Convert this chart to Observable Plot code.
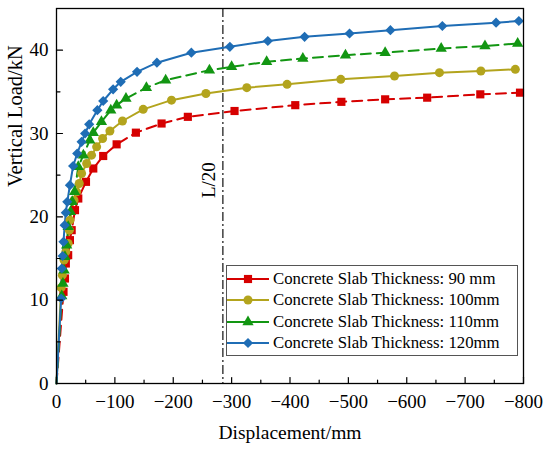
<!DOCTYPE html>
<html>
<head>
<meta charset="utf-8">
<script src="https://cdn.jsdelivr.net/npm/d3@7"></script>
<script src="https://cdn.jsdelivr.net/npm/@observablehq/plot@0.6"></script>
<style>
  html, body { margin: 0; padding: 0; background: white; }
  #wrap { position: relative; width: 550px; height: 450px; font-family: "Liberation Serif", "Times New Roman", serif; }
  #legend { position: absolute; left: 226px; top: 265px; width: 292px; height: 91px; border: 1px solid #555; background: white; box-sizing: border-box; padding-top: 2px; }
  .row { display: flex; align-items: center; height: 21.5px; }
  .row span { font-size: 16.8px; color: black; margin-left: 4px; white-space: nowrap; }
</style>
</head>
<body>
<div id="wrap"></div>
<script>
// ---- data ----
const seriesNames = [
  "Concrete Slab Thickness: 90 mm",
  "Concrete Slab Thickness: 100mm",
  "Concrete Slab Thickness: 110mm",
  "Concrete Slab Thickness: 120mm"
];
const seriesColors = ["#d60000", "#b3a41d", "#129612", "#1f6db5"];
const seriesSymbols = ["square", "circle", "triangle", "diamond2"];
const seriesDash = ["10,6", null, "10,6", null];
const seriesR = [4.6, 4.5, 4.2, 4.6];

const disp90  = [0, -12, -14.5, -16, -20, -23, -26, -31.7, -37.3, -50.5, -63, -80, -103, -136, -180, -225, -305, -409, -488, -563, -635, -726, -794];
const load90  = [0, 11, 12.6, 14.4, 15.4, 17.2, 18.4, 20.8, 22.2, 24.2, 25.8, 27.3, 28.7, 30.1, 31.2, 32.0, 32.7, 33.4, 33.8, 34.1, 34.3, 34.7, 34.9];

const disp100 = [0, -8, -10, -13, -16, -20, -22, -23, -30, -34.5, -39, -43, -51.7, -60, -68.8, -79, -91.5, -113, -148.5, -197, -256, -326, -395, -487, -579, -656, -727, -786];
const load100 = [0, 11.5, 13, 14.8, 15.8, 16.8, 18.4, 19.6, 22, 23, 24, 25.2, 26.4, 27.4, 28.4, 29.4, 30.3, 31.5, 32.9, 34.0, 34.8, 35.5, 35.9, 36.5, 36.9, 37.3, 37.5, 37.7];

const disp110 = [0, -9, -11, -13, -14.5, -17.4, -20, -24, -27, -31, -37.3, -46, -57, -63, -77, -93, -103, -119, -154, -187, -262, -300, -360, -422, -495, -563, -659, -734, -790];
const load110 = [0, 10.5, 12, 13.6, 15.2, 16.6, 18.8, 20.6, 21.8, 23, 26, 27.4, 29.2, 30.1, 31.4, 32.8, 33.4, 34.2, 35.5, 36.4, 37.6, 38.0, 38.6, 39.0, 39.4, 39.7, 40.2, 40.5, 40.8];

const disp120 = [0, -8, -9, -10.5, -12, -14, -16, -18.5, -23, -28.5, -35.5, -43, -49, -56, -70, -80, -97, -110, -138, -172, -231, -297, -362, -425, -502, -572, -661, -753, -792];
const load120 = [0, 10.2, 13.8, 15.3, 17, 19, 20.5, 21.8, 23.8, 26.1, 27.6, 29, 30, 31.1, 32.8, 33.9, 35.3, 36.2, 37.4, 38.5, 39.7, 40.4, 41.1, 41.6, 42.0, 42.4, 42.9, 43.3, 43.5];

const xMajorTicks = [0, -100, -200, -300, -400, -500, -600, -700, -800];
const xMinorTicks = [-50, -150, -250, -350, -450, -550, -650, -750];
const yMajorTicks = [0, 10, 20, 30, 40];
const yMinorTicks = [5, 15, 25, 35];

const refLineX = [-285];
const refLabel = "L/20";
const refLabelY = 24.4;

// ---- build table ----
const dispAll = [disp90, disp100, disp110, disp120];
const loadAll = [load90, load100, load110, load120];
const rows = [];
dispAll.forEach((xs, i) => xs.forEach((x, j) => rows.push({s: i, x, y: loadAll[i][j]})));

const tickShape = {draw(context, l) { context.moveTo(0, 0); context.lineTo(0, -l); }};
const fmt = d => d === 0 ? "0" : "\u2212" + Math.abs(d);

const marks = [
  Plot.ruleX(refLineX, {stroke: "#222", strokeWidth: 1.3, strokeDasharray: "9,3,2,3"}),
  Plot.text([refLabel], {x: refLineX[0], y: refLabelY, rotate: -90, dx: -14, fontSize: 19, fill: "black", lineAnchor: "middle"})
];
seriesNames.forEach((name, i) => {
  const d = rows.filter(r => r.s === i);
  marks.push(Plot.line(d, {x: "x", y: "y", stroke: seriesColors[i], strokeWidth: 2, strokeDasharray: seriesDash[i] || undefined}));
});
seriesNames.forEach((name, i) => {
  const d = rows.filter(r => r.s === i && r.y > 0);
  marks.push(Plot.dot(d, {x: "x", y: "y", symbol: seriesSymbols[i], fill: seriesColors[i], stroke: "none", r: seriesR[i]}));
});
marks.push(
  Plot.frame({stroke: "black", strokeWidth: 1.3}),
  Plot.vector(xMajorTicks, {x: d => d, frameAnchor: "bottom", length: 6, anchor: "start", shape: tickShape, stroke: "black", strokeWidth: 1.2}),
  Plot.vector(xMinorTicks, {x: d => d, frameAnchor: "bottom", length: 3.5, anchor: "start", shape: tickShape, stroke: "black", strokeWidth: 1.2}),
  Plot.vector(yMajorTicks, {y: d => d, frameAnchor: "left", rotate: 90, length: 6, anchor: "start", shape: tickShape, stroke: "black", strokeWidth: 1.2}),
  Plot.vector(yMinorTicks, {y: d => d, frameAnchor: "left", rotate: 90, length: 3.5, anchor: "start", shape: tickShape, stroke: "black", strokeWidth: 1.2}),
  Plot.axisX({ticks: xMajorTicks, tickFormat: fmt, tickSize: 0, tickPadding: 11, fontSize: 19, label: null}),
  Plot.axisY({ticks: yMajorTicks, tickSize: 0, tickPadding: 8, fontSize: 19, label: null}),
  Plot.text(["Displacement/mm"], {frameAnchor: "bottom", dy: 49, fontSize: 19.5, fill: "black", lineAnchor: "middle"}),
  Plot.text(["Vertical Load/kN"], {frameAnchor: "left", rotate: -90, dx: -41, dy: -9, fontSize: 20.5, fill: "black", lineAnchor: "middle"})
);

const chart = Plot.plot({
  width: 550,
  height: 450,
  marginLeft: 56,
  marginRight: 27,
  marginTop: 8,
  marginBottom: 67,
  style: {fontFamily: "Liberation Serif", fontSize: "19px", background: "white", color: "black", overflow: "visible"},
  x: {domain: [0, -800]},
  y: {domain: [0, 45]},
  marks
});
const wrap = document.getElementById("wrap");
wrap.appendChild(chart);

// ---- legend ----
const legend = d3.select(wrap).append("div").attr("id", "legend");
const symMap = {square: d3.symbolSquare, circle: d3.symbolCircle, triangle: d3.symbolTriangle, diamond2: d3.symbolDiamond2};
seriesNames.forEach((name, i) => {
  const row = legend.append("div").attr("class", "row");
  const svg = row.append("svg").attr("width", 42).attr("height", 20);
  svg.append("line").attr("x1", 0).attr("x2", 42).attr("y1", 10).attr("y2", 10)
    .attr("stroke", seriesColors[i]).attr("stroke-width", 2);
  const rr = seriesR[i];
  svg.append("path").attr("transform", "translate(21,10)")
    .attr("d", d3.symbol(symMap[seriesSymbols[i]], Math.PI * rr * rr)())
    .attr("fill", seriesColors[i]);
  row.append("span").text(name);
});
</script>
</body>
</html>
